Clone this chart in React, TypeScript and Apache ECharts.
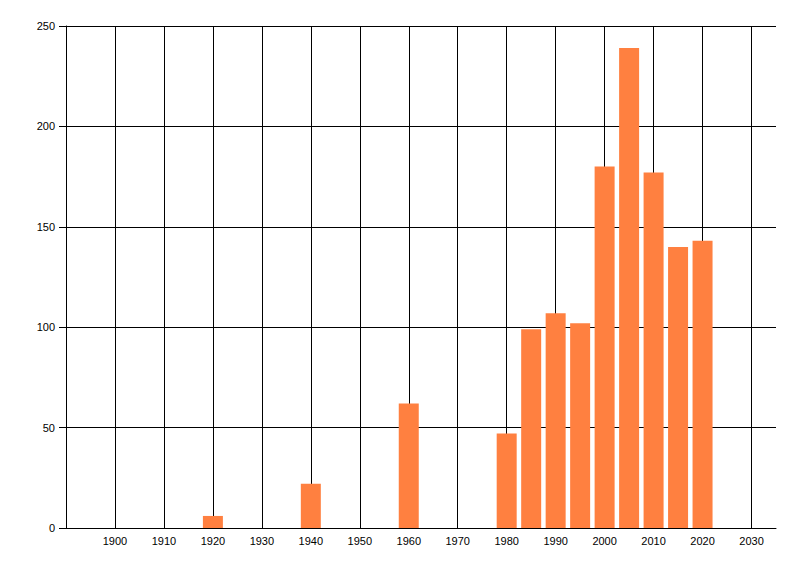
import { useRef, useEffect } from 'react'
import * as echarts from 'echarts'

const years = [1920, 1940, 1960, 1980, 1985, 1990, 1995, 2000, 2005, 2010, 2015, 2020];
const counts = [6, 22, 62, 47, 99, 107, 102, 180, 239, 177, 140, 143];

function App() {
  const chartRef = useRef<HTMLDivElement>(null);

  useEffect(() => {
    if (chartRef.current) {
      const myChart = echarts.init(chartRef.current, null, { renderer: 'svg' });
      const font = { fontFamily: 'Liberation Sans, Arial, sans-serif', fontSize: 11, color: '#000' };
      const option = {
        animation: false,
        grid: { left: 66, right: 24, top: 26, bottom: 48 },
        xAxis: {
          type: 'value',
          min: 1890,
          max: 2035,
          interval: 10,
          axisLine: { show: true, lineStyle: { color: '#000', width: 1 } },
          axisTick: { show: false },
          axisLabel: {
            ...font,
            margin: 7,
            showMinLabel: false,
            showMaxLabel: false,
            formatter: (v: number) => String(v)
          },
          splitLine: { show: true, showMinLine: false, showMaxLine: false, lineStyle: { color: '#000', width: 1 } }
        },
        yAxis: {
          type: 'value',
          min: 0,
          max: 250,
          interval: 50,
          axisLine: { show: true, lineStyle: { color: '#000', width: 1 } },
          axisTick: { show: true, length: 7, lineStyle: { color: '#000' } },
          axisLabel: { ...font, margin: 11 },
          splitLine: { show: true, lineStyle: { color: '#000', width: 1 } }
        },
        series: [{
          type: 'bar',
          data: years.map((y, i) => [y, counts[i]]),
          barWidth: 20,
          itemStyle: { color: '#FF8040' }
        }]
      };
      myChart.setOption(option);

      return () => {
        myChart.dispose();
      };
    }
  }, []);

  return (
    <div ref={chartRef} style={{ position: 'absolute', left: 0, top: 0, width: '800px', height: '576px' }}></div>
  )
}

export default App
